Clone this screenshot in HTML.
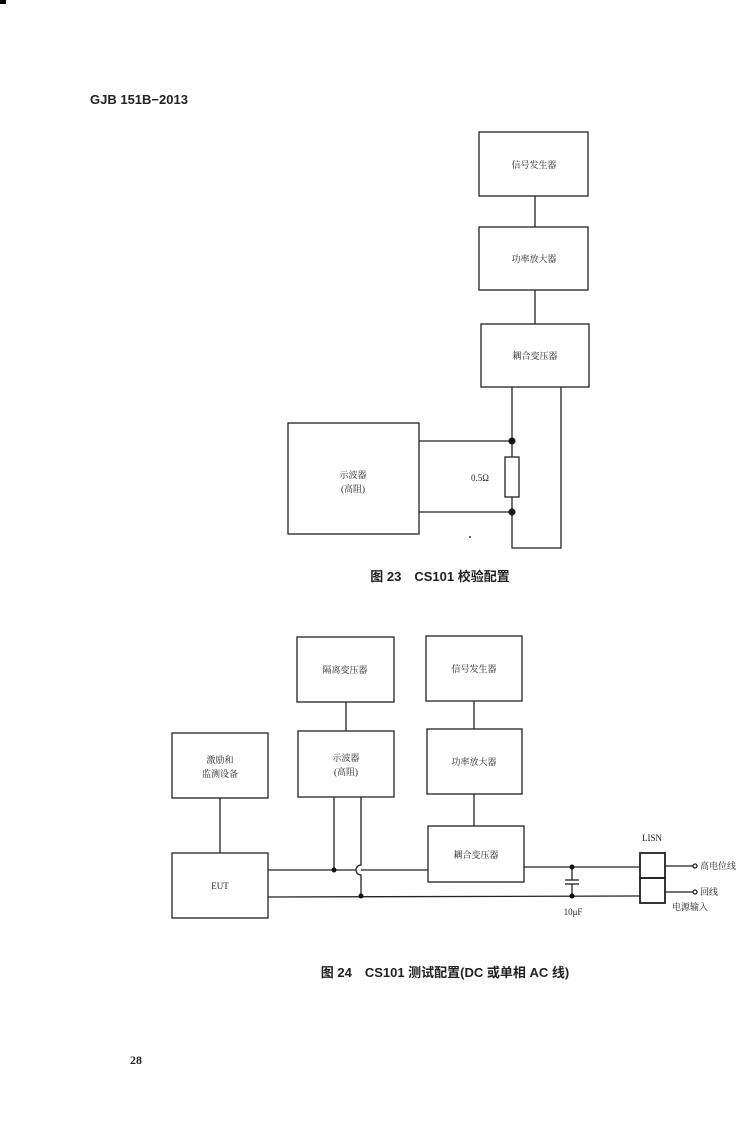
<!DOCTYPE html>
<html><head><meta charset="utf-8"><style>
body{margin:0;background:#fff;}
svg{display:block;}
text{font-family:"Liberation Serif","Noto Serif CJK SC",serif;fill:#222;}
text.s{font-family:"Liberation Sans","Noto Sans CJK SC",sans-serif;}
</style></head><body>
<svg width="750" height="1141" viewBox="0 0 750 1141" xmlns="http://www.w3.org/2000/svg">
<rect x="0" y="0" width="6" height="4" fill="#000"/>
<text class="s" x="90" y="104" font-size="13" font-weight="bold">GJB 151B−2013</text>
<g fill="none" stroke="#222" stroke-width="1.3">
<rect x="479" y="132" width="109" height="64"/>
<rect x="479" y="227" width="109" height="63"/>
<rect x="481" y="324" width="108" height="63"/>
<line x1="535" y1="196" x2="535" y2="227"/>
<line x1="535" y1="290" x2="535" y2="324"/>
<polyline points="512,387 512,548 561,548 561,387"/>
<rect x="288" y="423" width="131" height="111"/>
<line x1="419" y1="441" x2="512" y2="441"/>
<line x1="419" y1="512" x2="512" y2="512"/>
<rect x="505" y="457" width="14" height="40" fill="#fff"/>
</g>
<circle cx="512" cy="441" r="3.5" fill="#111"/>
<circle cx="512" cy="512" r="3.5" fill="#111"/>
<circle cx="470" cy="537" r="1" fill="#333"/>
<g font-size="9" text-anchor="middle">
<text x="534" y="168">信号发生器</text>
<text x="534" y="262">功率放大器</text>
<text x="535" y="359">耦合变压器</text>
<text x="353" y="478">示波器</text>
<text x="353" y="492">(高阻)</text>
<text x="480" y="481">0.5Ω</text>
</g>
<text class="s" x="440" y="581" font-size="13" font-weight="bold" text-anchor="middle">图 23　CS101 校验配置</text>

<g fill="none" stroke="#222" stroke-width="1.3">
<rect x="297" y="637" width="97" height="65"/>
<rect x="426" y="636" width="96" height="65"/>
<rect x="172" y="733" width="96" height="65"/>
<rect x="298" y="731" width="96" height="66"/>
<rect x="427" y="729" width="95" height="65"/>
<rect x="428" y="826" width="96" height="56"/>
<rect x="172" y="853" width="96" height="65"/>
<line x1="346" y1="702" x2="346" y2="731"/>
<line x1="474" y1="701" x2="474" y2="729"/>
<line x1="474" y1="794" x2="474" y2="826"/>
<line x1="220" y1="798" x2="220" y2="853"/>
<line x1="334" y1="797" x2="334" y2="870"/>
<path d="M361 797 L361 865 A5 5 0 0 0 361 875 L361 896"/>
<line x1="268" y1="870" x2="356" y2="870"/>
<line x1="361" y1="870" x2="428" y2="870"/>
<line x1="268" y1="897" x2="640" y2="896"/>
<line x1="524" y1="867" x2="640" y2="867"/>
<line x1="572" y1="867" x2="572" y2="880"/>
<line x1="572" y1="884" x2="572" y2="896"/>
<line x1="565" y1="880" x2="579" y2="880"/>
<line x1="565" y1="884" x2="579" y2="884"/>
<rect x="640" y="853" width="25" height="25" stroke-width="1.8"/>
<rect x="640" y="878" width="25" height="25" stroke-width="1.8"/>
<line x1="665" y1="866" x2="693" y2="866"/>
<line x1="665" y1="892" x2="693" y2="892"/>
<circle cx="695" cy="866" r="2" fill="#fff"/>
<circle cx="695" cy="892" r="2" fill="#fff"/>
</g>
<g fill="#111">
<circle cx="334" cy="870" r="2.5"/><circle cx="361" cy="896" r="2.5"/>
<circle cx="572" cy="867" r="2.5"/><circle cx="572" cy="896" r="2.5"/>
</g>
<g font-size="9" text-anchor="middle">
<text x="345" y="673">隔离变压器</text>
<text x="474" y="672">信号发生器</text>
<text x="220" y="763">激励和</text>
<text x="220" y="777">监测设备</text>
<text x="346" y="761">示波器</text>
<text x="346" y="775">(高阻)</text>
<text x="474" y="765">功率放大器</text>
<text x="476" y="858">耦合变压器</text>
<text x="220" y="889">EUT</text>
<text x="652" y="841">LISN</text>
<text x="573" y="915">10μF</text>
</g>
<g font-size="9">
<text x="700" y="869">高电位线</text>
<text x="700" y="895">回线</text>
<text x="672" y="910">电源输入</text>
</g>
<text class="s" x="445" y="977" font-size="13" font-weight="bold" text-anchor="middle">图 24　CS101 测试配置(DC 或单相 AC 线)</text>
<text x="130" y="1064" font-size="12" font-weight="bold">28</text>
</svg>
</body></html>
